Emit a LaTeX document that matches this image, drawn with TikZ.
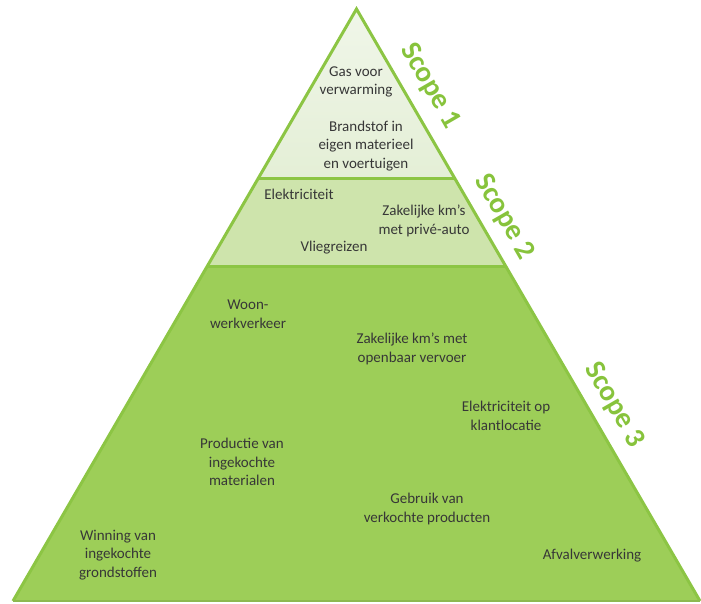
\documentclass[tikz,border=0pt]{standalone}
\usepackage{fontspec}
\setmainfont{Carlito}
\usetikzlibrary{calc}
\definecolor{topband}{RGB}{228,239,214}
\definecolor{topbandhi}{RGB}{240,246,233}
\definecolor{midband}{RGB}{206,228,172}
\definecolor{lowband}{RGB}{157,206,88}
\definecolor{edgegreen}{RGB}{140,197,68}
\definecolor{scopegreen}{RGB}{135,195,60}
\definecolor{txt}{RGB}{55,55,55}
\tikzset{
  lbl/.style={font=\fontsize{15}{18.5}\selectfont, text=txt, align=center, inner sep=0pt},
  scopelbl/.style={font=\fontsize{29}{30}\selectfont\bfseries, text=scopegreen, rotate=-60, inner sep=0pt},
  edge/.style={draw=edgegreen, line width=3pt, line join=miter}
}
\begin{document}
\begin{tikzpicture}[x=1pt,y=-1pt]
\useasboundingbox (0,0) rectangle (701,604);
\coordinate (A) at (356.5,9);
\coordinate (L) at (13,601);
\coordinate (R) at (700,601);
\coordinate (L1) at ($(A)!0.2855!(L)$);
\coordinate (R1) at ($(A)!0.2855!(R)$);
\coordinate (L2) at ($(A)!0.4358!(L)$);
\coordinate (R2) at ($(A)!0.4358!(R)$);
\fill[top color=topbandhi, bottom color=topband] (A) -- (L1) -- (R1) -- cycle;
\fill[midband] (L1) -- (L2) -- (R2) -- (R1) -- cycle;
\fill[lowband] (L2) -- (L) -- (R) -- (R2) -- cycle;
\draw[edge] (L1) -- (R1);
\draw[edge] (L2) -- (R2);
\draw[edge] (L) -- (A) -- (R);
\draw[draw=lowband!90!black, line width=1.5pt] (L) -- (R);
% scope 1
\node[lbl] (gas) at (356,82) {Gas voor\\verwarming};
\node[lbl] (brand) at (366,146) {Brandstof in\\eigen materieel\\en voertuigen};
% scope 2
\node[lbl] (elek) at (299,194) {Elektriciteit};
\node[lbl] (zakp) at (424,221) {Zakelijke km’s\\met privé-auto};
\node[lbl] (vlieg) at (334,248) {Vliegreizen};
% scope 3
\node[lbl] (woon) at (248,314) {Woon-\\werkverkeer};
\node[lbl] (zako) at (412,349) {Zakelijke km’s met\\openbaar vervoer};
\node[lbl] (elko) at (506,416) {Elektriciteit op\\klantlocatie};
\node[lbl] (prod) at (242,462) {Productie van\\ingekochte\\materialen};
\node[lbl] (gebr) at (427,509) {Gebruik van\\verkochte producten};
\node[lbl] (winn) at (118,555) {Winning van\\ingekochte\\grondstoffen};
\node[lbl] (afval) at (592,556) {Afvalverwerking};
% scope labels
\node[scopelbl] (s1) at (430,86) {Scope 1};
\node[scopelbl] (s2) at (504,217) {Scope 2};
\node[scopelbl] (s3) at (614,405) {Scope 3};
\end{tikzpicture}
\end{document}
